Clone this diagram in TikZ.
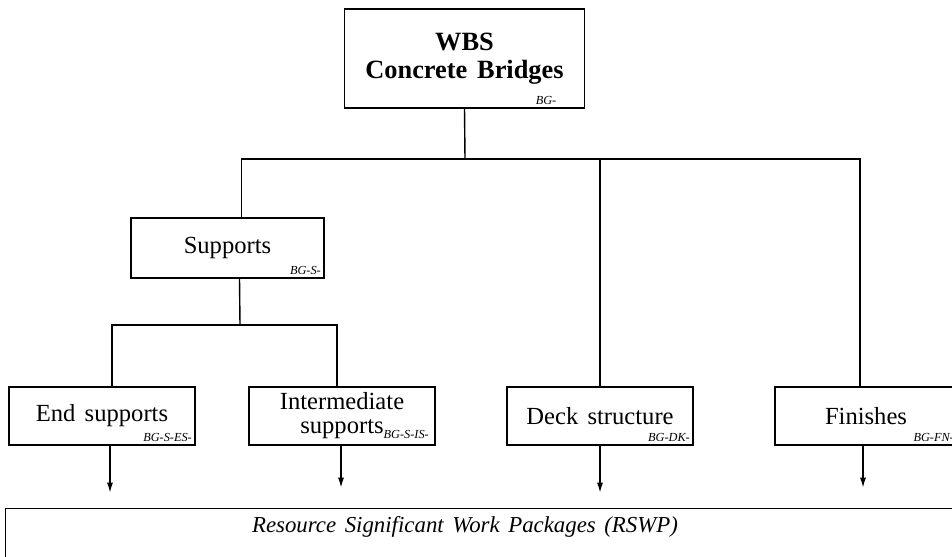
\documentclass[tikz,border=0pt]{standalone}
\usepackage{fontspec}
\setmainfont[WordSpace=1.5]{Liberation Serif}
\usetikzlibrary{arrows.meta}

\tikzset{
  wbsbox/.style={draw, line width=0.8pt, rectangle, inner sep=0pt, align=center,
    font=\fontsize{14}{13.5}\selectfont},
  code/.style={inner sep=2pt, font=\fontsize{7}{8}\selectfont\itshape},
  link/.style={line width=0.8pt},
  feed/.style={line width=0.8pt, -{Latex[length=2mm,width=1.2mm]}}
}

\begin{document}
\begin{tikzpicture}[x=0.02cm,y=-0.02cm]
  \useasboundingbox (0,0) rectangle (952,556);

  %%%%%%%% Level 0 %%%%%%%%
  \node[wbsbox, minimum width=4.8cm, minimum height=1.98cm,
    font=\fontsize{15}{16}\selectfont\bfseries] (wbs) at (464.5,58.5)
    {WBS\\Concrete Bridges};
  \node[code, anchor=south east] (wbscode) at ([xshift=-.5cm]wbs.south east) {BG-};

  %%%%%%%% Level 1 %%%%%%%%
  \node[wbsbox, minimum width=3.86cm, minimum height=1.2cm] (supports) at (227.5,248) {Supports};
  \node[code, anchor=south east] (supcode) at (supports.south east) {BG-S-};

  \node[wbsbox, minimum width=3.72cm, minimum height=1.16cm] (deck) at (600,416) {Deck structure};
  \node[code, anchor=south east] (deckcode) at (deck.south east) {BG-DK-};

  \node[wbsbox, minimum width=3.64cm, minimum height=1.16cm] (fin) at (866,416) {Finishes};
  \node[code, anchor=south east] (fincode) at (fin.south east) {BG-FN-};

  %%%%%%%% Level 2 %%%%%%%%
  \node[wbsbox, minimum width=3.72cm, minimum height=1.16cm] (ends) at (102,416) {End supports};
  \node[code, anchor=south east] (endcode) at (ends.south east) {BG-S-ES-};

  \node[wbsbox, minimum width=3.72cm, minimum height=1.16cm] (inter) at (342,416)
    {Intermediate\\supports\rlap{\raisebox{-3pt}{\fontsize{7}{8}\selectfont\itshape BG-S-IS-}}};

  %%%%%%%% RSWP %%%%%%%%
  \node[draw, line width=0.8pt, minimum width=19.3cm, minimum height=1.6cm,
    anchor=north west, inner sep=0pt] (rswp) at (5,508) {};
  \node[font=\fontsize{13}{15}\selectfont\itshape] (rswptext) at (465,527)
    {Resource Significant Work Packages (RSWP)};

  %%%%%%%% Links %%%%%%%%
  \coordinate (topbus) at (465,159);
  \coordinate (midbus) at (240,325);
  \draw[link] (wbs.south) -- (topbus);
  \draw[link] ([xshift=.28cm]supports.north) |- (topbus) -| (deck.north);
  \draw[link] (deck.north |- topbus) -| ([xshift=-.12cm]fin.north);
  \draw[link] ([xshift=.24cm]supports.south) -- (midbus);
  \draw[link] ([xshift=.2cm]ends.north) |- (midbus) -| ([xshift=-.1cm]inter.north);

  %%%%%%%% Arrows %%%%%%%%
  \draw[feed] ([xshift=.16cm]ends.south) -- ++(0,47);
  \draw[feed] ([xshift=-.02cm]inter.south) -- ++(0,42);
  \draw[feed] (deck.south) -- ++(0,47);
  \draw[feed] ([xshift=-.06cm]fin.south) -- ++(0,42);
\end{tikzpicture}
\end{document}
